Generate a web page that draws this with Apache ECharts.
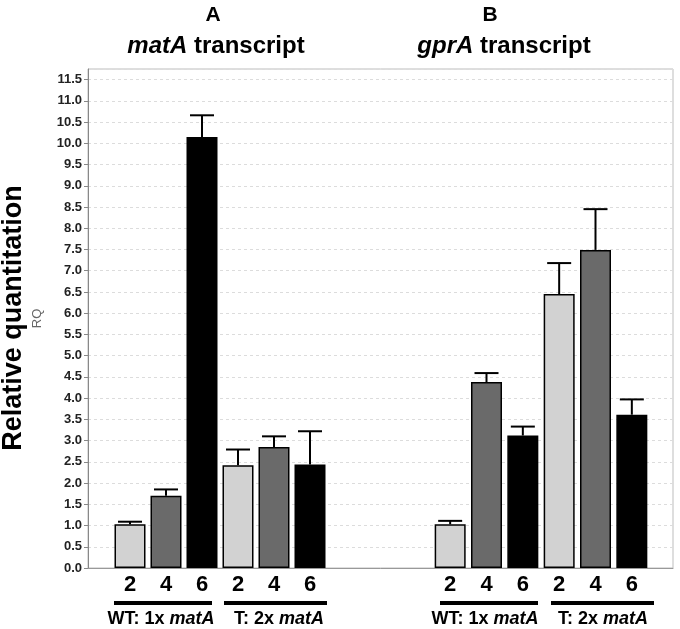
<!DOCTYPE html>
<html>
<head>
<meta charset="utf-8">
<script src="https://cdn.jsdelivr.net/npm/echarts@6/dist/echarts.min.js"></script>
<style>
html,body{margin:0;padding:0;background:#fff;}
#chart{width:680px;height:629px;}
</style>
</head>
<body>
<div id="chart"></div>
<script>
// ---- data ----
const timeCategories = ['2', '4', '6', '2', '4', '6'];
const matAValues = [1.03, 1.70, 10.15, 2.42, 2.85, 2.44];
const matAErrors = [0.06, 0.15, 0.51, 0.37, 0.25, 0.78];
const gprAValues = [1.03, 4.38, 3.12, 6.45, 7.49, 3.61];
const gprAErrors = [0.08, 0.21, 0.21, 0.73, 0.96, 0.36];
const panelLetters = ['A', 'B'];
const panelGenes = ['matA', 'gprA'];
const groupLabels = [['WT: 1x ', 'matA'], ['T: 2x ', 'matA']];
const yMin = 0, yMax = 11.75, yStep = 0.5;
const yTitle = 'Relative quantitation';
const yName = 'RQ';
const timeColors = ['#d2d2d2', '#6a6a6a', '#000000'];

const FONT = '"Liberation Sans", Arial, sans-serif';

function barData(values) {
  return values.map((v, i) => ({ value: v, itemStyle: { color: timeColors[i % 3] } }));
}
function errData(values, errs) {
  return values.map((v, i) => [i, v, v + errs[i]]);
}
function errRender(params, api) {
  const x = api.value(0);
  const p0 = api.coord([x, api.value(1)]);
  const p1 = api.coord([x, api.value(2)]);
  const half = 12;
  const st = { stroke: '#000', lineWidth: 2 };
  return {
    type: 'group',
    children: [
      { type: 'line', shape: { x1: p0[0], y1: p0[1], x2: p1[0], y2: p1[1] }, style: st },
      { type: 'line', shape: { x1: p1[0] - half, y1: p1[1], x2: p1[0] + half, y2: p1[1] }, style: st }
    ]
  };
}

const gridTop = 69, gridBottom = 61;
const hiddenY = (gi) => ({ type: 'value', gridIndex: gi, min: yMin, max: yMax, show: false, splitLine: { show: false } });
const catX = (gi) => ({
  type: 'category', gridIndex: gi, data: timeCategories,
  axisLine: { show: false }, axisTick: { show: false },
  axisLabel: { fontFamily: FONT, fontSize: 22, fontWeight: 'bold', color: '#000', margin: 6 }
});

const chart = echarts.init(document.getElementById('chart'), null, { renderer: 'canvas' });

const groupLines = [
  [114, 212], [224, 327], [440, 538], [551, 654]
];
const groupTextCenters = [161, 279, 485, 603];

const graphics = [];
// y title
graphics.push({
  type: 'text', x: 14, y: 318, rotation: Math.PI / 2,
  style: { text: yTitle, font: 'bold 27px ' + FONT, fill: '#000', textAlign: 'center', textVerticalAlign: 'middle' }
});
// panel titles
const titleCenters = [[213, 216], [490, 504]];
panelLetters.forEach((L, k) => {
  graphics.push({ type: 'text', x: titleCenters[k][0], y: 15,
    style: { text: L, font: 'bold 21px ' + FONT, fill: '#000', textAlign: 'center', textVerticalAlign: 'middle' } });
  graphics.push({ type: 'text', x: titleCenters[k][1], y: 46,
    style: { rich: { i: { fontStyle: 'italic', fontWeight: 'bold', fontSize: 24, fontFamily: FONT, fill: '#000' },
                     n: { fontWeight: 'bold', fontSize: 24, fontFamily: FONT, fill: '#000' } },
             text: '{i|' + panelGenes[k] + '}{n| transcript}', textAlign: 'center', textVerticalAlign: 'middle' } });
});
groupLines.forEach((l, k) => {
  graphics.push({ type: 'rect', shape: { x: l[0], y: 601, width: l[1] - l[0], height: 4 }, style: { fill: '#000' } });
  const g = groupLabels[k % 2];
  graphics.push({ type: 'text', x: groupTextCenters[k], y: 619,
    style: { rich: { n: { fontWeight: 'bold', fontSize: 18, fontFamily: FONT, fill: '#000' },
                     i: { fontWeight: 'bold', fontStyle: 'italic', fontSize: 18, fontFamily: FONT, fill: '#000' } },
             text: '{n|' + g[0] + '}{i|' + g[1] + '}', textAlign: 'center', textVerticalAlign: 'middle' } });
});

const option = {
  animation: false,
  backgroundColor: '#fff',
  grid: [
    { left: 88, right: 7, top: gridTop, bottom: gridBottom, show: true, borderColor: '#bdbdbd', borderWidth: 1 },
    { left: 112, width: 216, top: gridTop, bottom: gridBottom },
    { left: 432, width: 218, top: gridTop, bottom: gridBottom }
  ],
  xAxis: [
    { type: 'category', gridIndex: 0, data: [''], axisLine: { show: true, lineStyle: { color: '#999', width: 1 } },
      axisTick: { show: false }, axisLabel: { show: false } },
    catX(1), catX(2)
  ],
  yAxis: [
    { type: 'value', gridIndex: 0, min: yMin, max: yMax, interval: yStep,
      name: yName, nameLocation: 'middle', nameRotate: 90, nameGap: 44,
      nameTextStyle: { fontFamily: FONT, fontSize: 13, color: '#666' },
      axisLine: { show: true, lineStyle: { color: '#888', width: 1 } },
      axisTick: { show: true, length: 4, lineStyle: { color: '#888' } },
      axisLabel: { showMaxLabel: false, fontFamily: FONT, fontSize: 13, fontWeight: 'bold', color: '#222', margin: 6,
        formatter: v => v.toFixed(1) },
      splitLine: { show: true, lineStyle: { color: '#dcdcdc', type: [3, 3], width: 1 } } },
    hiddenY(1), hiddenY(2)
  ],
  series: [
    { type: 'bar', xAxisIndex: 1, yAxisIndex: 1, data: barData(matAValues), barWidth: 31,
      itemStyle: { borderColor: '#000', borderWidth: 1.5 } },
    { type: 'custom', xAxisIndex: 1, yAxisIndex: 1, data: errData(matAValues, matAErrors), renderItem: errRender, z: 3 },
    { type: 'bar', xAxisIndex: 2, yAxisIndex: 2, data: barData(gprAValues), barWidth: 31,
      itemStyle: { borderColor: '#000', borderWidth: 1.5 } },
    { type: 'custom', xAxisIndex: 2, yAxisIndex: 2, data: errData(gprAValues, gprAErrors), renderItem: errRender, z: 3 }
  ],
  graphic: graphics
};
chart.setOption(option);
</script>
</body>
</html>
